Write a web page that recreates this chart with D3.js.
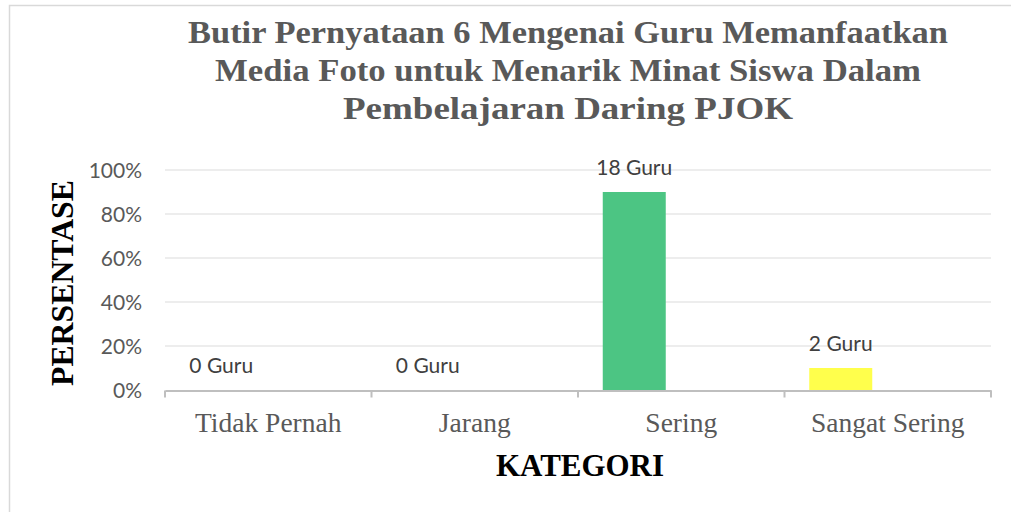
<!DOCTYPE html>
<html>
<head>
<meta charset="utf-8">
<script src="https://cdn.jsdelivr.net/npm/d3@7"></script>
<style>
  html, body { margin: 0; padding: 0; background: #fff; overflow: hidden; }
  svg { display: block; }
</style>
</head>
<body>
<svg id="chart" width="1011" height="512"></svg>
<script>
const categories = ["Tidak Pernah", "Jarang", "Sering", "Sangat Sering"];
const values = [0, 0, 0.9, 0.1];
const dataLabels = ["0 Guru", "0 Guru", "18 Guru", "2 Guru"];
const barColors = ["#4472C4", "#ED7D31", "#4CC583", "#FFFF4C"];
const yTicks = [0, 0.2, 0.4, 0.6, 0.8, 1.0];
const titleLines = ["Butir Pernyataan 6 Mengenai Guru Memanfaatkan", "Media Foto untuk Menarik Minat Siswa Dalam", "Pembelajaran Daring PJOK"];
const titleWidths = [760, 706, 450];
const yTitle = "PERSENTASE";
const xTitle = "KATEGORI";

const svg = d3.select("#chart");

// outer border
svg.append("rect")
  .attr("x", 9.5).attr("y", 5.5)
  .attr("width", 1040).attr("height", 540)
  .attr("fill", "#fff")
  .attr("stroke", "#d9d9d9").attr("stroke-width", 1.5);

const x = d3.scaleBand().domain(categories).range([165, 991]).padding(0);
const y = d3.scaleLinear().domain([0, 1]).range([390, 170]);
const barW = 63;
const barOffset = -47;

// gridlines
svg.append("g").selectAll("line")
  .data(yTicks.filter(d => d > 0))
  .join("line")
  .attr("x1", 165).attr("x2", 991)
  .attr("y1", d => y(d)).attr("y2", d => y(d))
  .attr("stroke", "#e7e7e7").attr("stroke-width", 1.5);

// y axis labels
const yAxis = d3.axisLeft(y).tickValues(yTicks).tickFormat(d3.format(".0%")).tickSize(0).tickPadding(23);
const yg = svg.append("g").attr("transform", "translate(165,0)").call(yAxis);
yg.select(".domain").remove();
yg.selectAll("text")
  .attr("font-family", "Lato, 'Open Sans', sans-serif")
  .attr("font-size", 21)
  .attr("fill", "#595959")
  .attr("dy", "0.36em");

// bars
svg.append("g").selectAll("rect")
  .data(categories)
  .join("rect")
  .attr("x", (d) => x(d) + x.bandwidth() / 2 + barOffset - barW / 2)
  .attr("width", barW)
  .attr("y", (d, i) => y(values[i]))
  .attr("height", (d, i) => y(0) - y(values[i]))
  .attr("fill", (d, i) => barColors[i]);

// x axis
const xAxis = d3.axisBottom(x).tickSize(0).tickFormat("");
const xg = svg.append("g").attr("transform", "translate(0,390.5)").call(xAxis);
xg.select(".domain").attr("stroke", "#bfbfbf").attr("stroke-width", 2);
// category boundary ticks
const boundaries = categories.map(c => x(c)).concat([x.range()[1]]);
xg.selectAll("line.sep")
  .data(boundaries)
  .join("line")
  .attr("class", "sep")
  .attr("x1", d => d).attr("x2", d => d)
  .attr("y1", 0).attr("y2", 7)
  .attr("stroke", "#bfbfbf").attr("stroke-width", 2);

// category labels
svg.append("g").selectAll("text")
  .data(categories)
  .join("text")
  .attr("x", d => x(d) + x.bandwidth() / 2)
  .attr("y", 432)
  .attr("text-anchor", "middle")
  .attr("font-family", "'Liberation Serif', 'Times New Roman', serif")
  .attr("font-size", 27.5)
  .attr("fill", "#595959")
  .text(d => d);

// data labels
svg.append("g").selectAll("text")
  .data(categories)
  .join("text")
  .attr("x", d => x(d) + x.bandwidth() / 2 + barOffset)
  .attr("y", (d, i) => y(values[i]) - 17)
  .attr("text-anchor", "middle")
  .attr("font-family", "Lato, 'Open Sans', sans-serif")
  .attr("font-size", 21)
  .attr("fill", "#404040")
  .text((d, i) => dataLabels[i]);

// title
const titleBase = [43, 81, 119];
svg.append("g").selectAll("text")
  .data(titleLines)
  .join("text")
  .attr("x", 568)
  .attr("y", (d, i) => titleBase[i])
  .attr("text-anchor", "middle")
  .attr("font-family", "'Liberation Serif', 'Times New Roman', serif")
  .attr("font-weight", "bold")
  .attr("font-size", 31)
  .attr("fill", "#595959")
  .attr("textLength", (d, i) => titleWidths[i])
  .attr("lengthAdjust", "spacingAndGlyphs")
  .text(d => d);

// axis titles
svg.append("text")
  .attr("transform", "translate(73,283) rotate(-90)")
  .attr("text-anchor", "middle")
  .attr("font-family", "'Liberation Serif', 'Times New Roman', serif")
  .attr("font-weight", "bold")
  .attr("font-size", 31)
  .attr("fill", "#000")
  .attr("textLength", 206)
  .attr("lengthAdjust", "spacingAndGlyphs")
  .text(yTitle);

svg.append("text")
  .attr("x", 580)
  .attr("y", 476)
  .attr("text-anchor", "middle")
  .attr("font-family", "'Liberation Serif', 'Times New Roman', serif")
  .attr("font-weight", "bold")
  .attr("font-size", 31)
  .attr("fill", "#000")
  .attr("textLength", 168)
  .attr("lengthAdjust", "spacingAndGlyphs")
  .text(xTitle);
</script>
</body>
</html>
